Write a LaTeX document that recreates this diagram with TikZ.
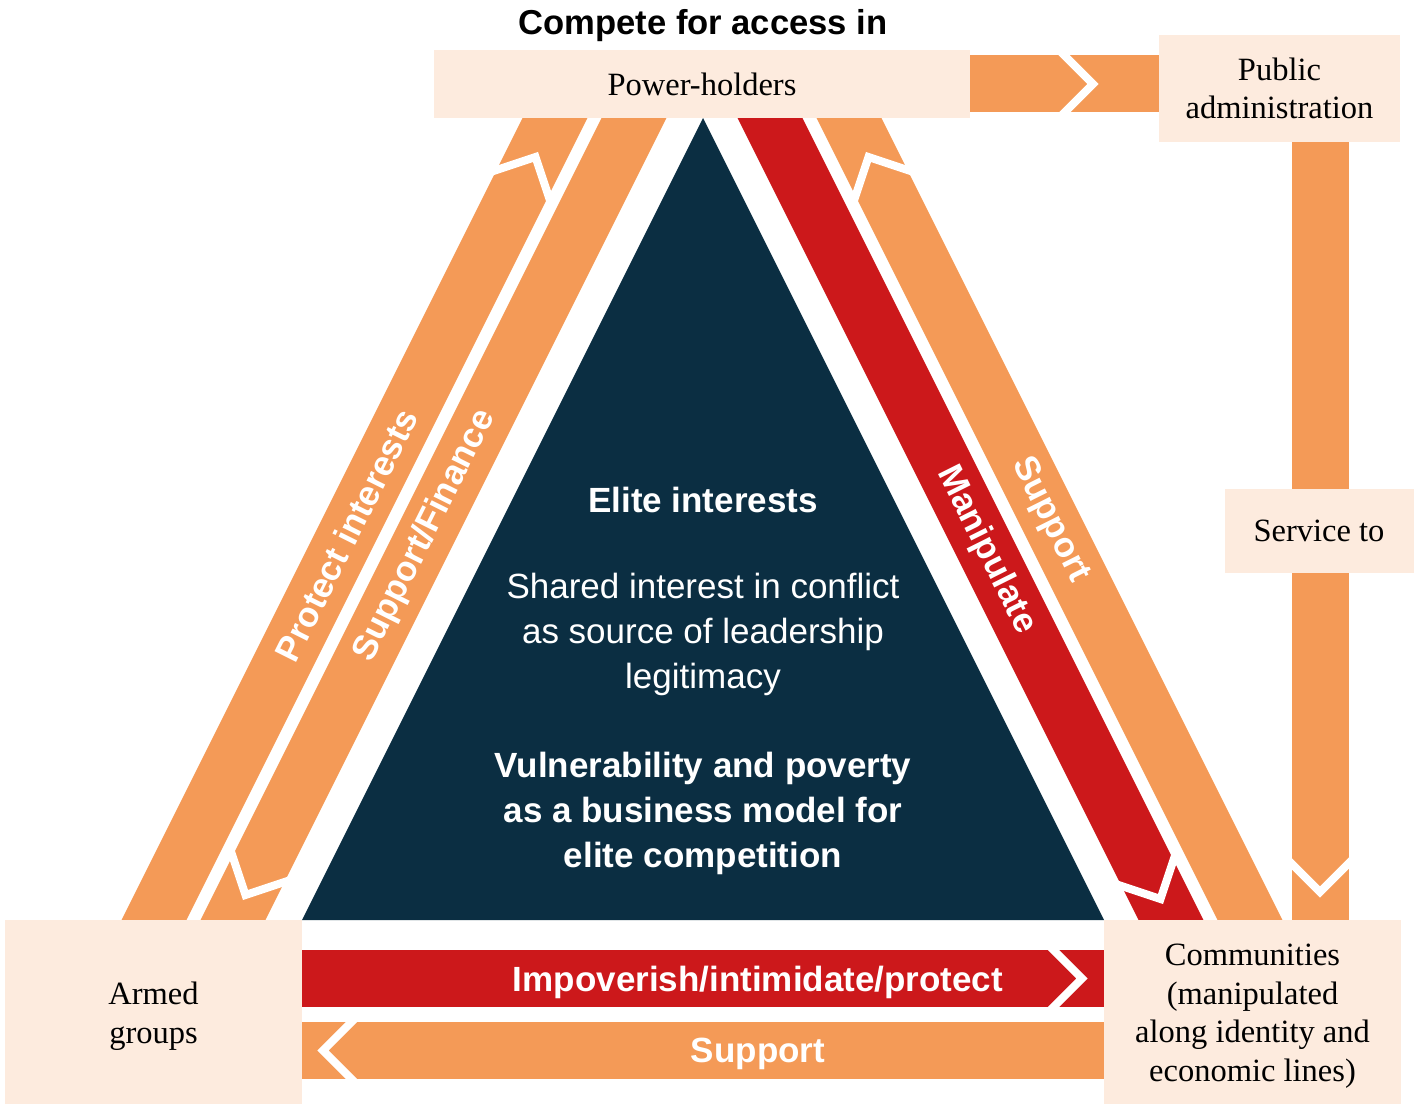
\documentclass[tikz,border=0pt]{standalone}
\usepackage{fontspec}
\setmainfont{Liberation Serif}
\setsansfont{Liberation Sans}

\definecolor{bandorange}{RGB}{244,154,87}
\definecolor{bandred}{RGB}{204,24,27}
\definecolor{elitenavy}{RGB}{11,46,66}
\definecolor{boxpeach}{RGB}{253,235,222}

\newcommand{\boxfont}{\rmfamily\fontsize{32.5}{38.5}\selectfont}
\newcommand{\labelfont}{\sffamily\bfseries\fontsize{35}{40}\selectfont}
\newcommand{\elitefont}{\sffamily\fontsize{35}{45}\selectfont}

% white chevron cut across a band: tip position, flow angle
\newcommand{\chev}[2]{%
  \begin{scope}[shift={#1}, rotate=#2]
    \draw [white, line width=8pt] (-34,34) -- (0,0) -- (-34,-34);
  \end{scope}}

\begin{document}
\begin{tikzpicture}[x=1pt, y=1pt]
\tikzset{ inner sep=0pt, outer sep=0pt,
  band/.style={line width=58pt, draw=bandorange},
  redband/.style={line width=58pt, draw=bandred},
  flatband/.style={line width=57pt, draw=bandorange},
  flatred/.style={line width=57pt, draw=bandred},
  actor/.style={fill=boxpeach, align=center, font=\boxfont},
  bandlabel/.style={text=white, font=\labelfont},
}
\useasboundingbox (0,0) rectangle (1418,1104);

%\draw [lightgray, dashed](0,0) grid [step=100] (1418,1104);

% band ends (hidden under the boxes)
\coordinate (prot-a) at (144.5,165);
\coordinate (prot-b) at (567,1010);
\coordinate (fin-a)  at (646,1010);
\coordinate (fin-b)  at (223.5,165);
\coordinate (man-a)  at (758,1010);
\coordinate (man-b)  at (1180.5,165);
\coordinate (sup-a)  at (1259.5,165);
\coordinate (sup-b)  at (837,1010);
\coordinate (acc-a)  at (960,1020);
\coordinate (acc-b)  at (1170,1020);
\coordinate (srv-a)  at (1320,970);
\coordinate (srv-b)  at (1320,175);
\coordinate (imp-a)  at (295,125.5);
\coordinate (imp-b)  at (1110,125.5);
\coordinate (sub-a)  at (1110,53.5);
\coordinate (sub-b)  at (295,53.5);

\draw [band]     (prot-a) -- (prot-b);
\draw [band]     (fin-a)  -- (fin-b);
\draw [redband]  (man-a)  -- (man-b);
\draw [band]     (sup-a)  -- (sup-b);
\draw [flatband] (acc-a)  -- (acc-b);
\draw [flatband] (srv-a)  -- (srv-b);
\draw [flatred]  (imp-a)  -- (imp-b);
\draw [flatband] (sub-a)  -- (sub-b);

\chev{(535.5,947)}{63.435}
\chev{(245.5,209)}{243.435}
\chev{(1160.5,205)}{296.565}
\chev{(868.5,947)}{116.565}
\chev{(1093,1020)}{0}
\chev{(1320,212)}{270}
\chev{(1082,125.5)}{0}
\chev{(323,53.5)}{180}

% elite triangle
\coordinate (apex) at (703,986);
\coordinate (base-l) at (302,184);
\coordinate (base-r) at (1104,184);
\fill [elitenavy] (apex) -- (base-r) -- (base-l) -- cycle;

\node [text=white, font=\elitefont\bfseries] (elite) at (703,604) {Elite interests};
\node [text=white, font=\elitefont, align=center] (shared) at (703,470)
  {Shared interest in conflict\\as source of leadership\\legitimacy};
\node [text=white, font=\elitefont\bfseries, align=center] (vuln) at (703,291)
  {Vulnerability and poverty\\as a business model for\\elite competition};

% actors
\node [actor, minimum width=536, minimum height=68] (power) at (702,1020) {Power-holders};
\node [actor, minimum width=241, minimum height=107] (admin) at (1279.5,1015.5) {Public\\administration};
\node [actor, minimum width=189, minimum height=84] (service) at (1319,573) {Service to};
\node [actor, minimum width=297, minimum height=184] (armed) at (153.5,92) {};
\node [font=\boxfont, align=center] (armed-txt) at (153.5,88) {Armed\\groups};
\node [actor, minimum width=297, minimum height=184] (comm) at (1252.5,92) {};
\node [font=\boxfont, align=center] (comm-txt) at (1252.5,88)
  {Communities\\(manipulated\\along identity and\\economic lines)};

\node [font=\sffamily\bfseries\fontsize{34.6}{40}\selectfont] (title) at (703,1078) {Compete for access in};

% band labels
\node [bandlabel, rotate=63.435]  (protect) at (346.5,569) {Protect interests};
\node [bandlabel, rotate=63.435]  (finance) at (425,568)   {Support/Finance};
\node [bandlabel, rotate=-63.435] (manip)   at (986,554)   {Manipulate};
\node [bandlabel, rotate=-63.435] (supup)   at (1050,584)  {Support};
\node [bandlabel] (impov) at (758,121.5) {Impoverish/intimidate/protect};
\node [bandlabel] (supdn) at (758,50)    {Support};
\end{tikzpicture}
\end{document}
